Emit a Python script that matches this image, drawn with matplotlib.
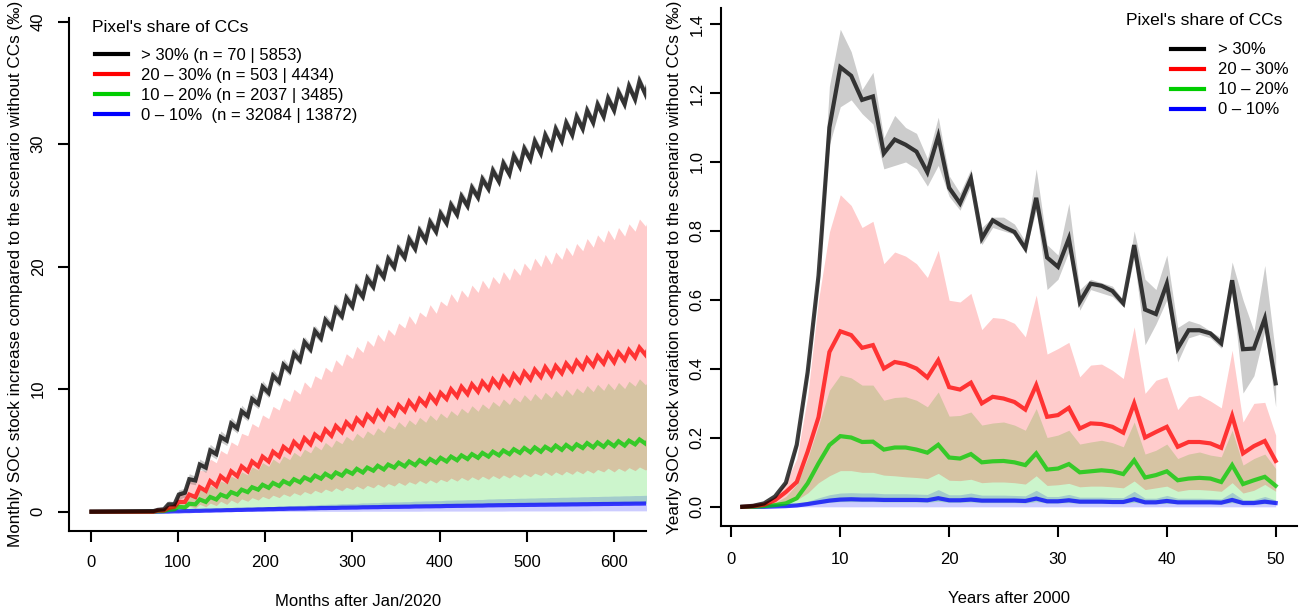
import numpy as np
import matplotlib
matplotlib.use("Agg")
import matplotlib.pyplot as plt
from matplotlib.lines import Line2D

plt.rcParams['font.family'] = ['Liberation Sans', 'DejaVu Sans']

# ---------------- data ----------------
# left panel: monthly series, one trough (month 12k) and one peak (month 12k+5) per year k
years_m = np.arange(6, 54)
start_value = 0.0   # all series are flat at zero before year 6

black_trough = [0.05, 0.2, 0.6, 1.55, 2.55, 3.6, 4.7, 5.8, 6.8, 7.8, 8.8, 9.7, 10.6, 11.5, 12.35, 13.25,
                14.15, 15.05, 15.95, 16.75, 17.55, 18.35, 19.15, 19.95, 20.75, 21.45, 22.15, 22.85, 23.55, 24.25,
                24.95, 25.65, 26.35, 26.95, 27.55, 28.15, 28.75, 29.25, 29.75, 30.25, 30.75, 31.25, 31.75, 32.25,
                32.75, 33.25, 33.65, 34.05]
black_peak = [0.15, 0.6, 1.4, 2.65, 3.85, 5.0, 6.1, 7.2, 8.2, 9.2, 10.2, 11.1, 12.0, 12.9, 13.85, 14.75,
              15.65, 16.55, 17.45, 18.25, 19.05, 19.85, 20.65, 21.45, 22.25, 22.95, 23.65, 24.35, 25.05, 25.75,
              26.45, 27.15, 27.85, 28.45, 29.05, 29.65, 30.25, 30.75, 31.25, 31.75, 32.25, 32.75, 33.25, 33.75,
              34.25, 34.75, 35.15, 35.55]
black_lo_trough = [0.0, 0.1, 0.4, 1.2, 2.2, 3.2, 4.3, 5.4, 6.4, 7.4, 8.4, 9.3, 10.2, 11.1, 12.0, 12.9, 13.8,
                   14.7, 15.6, 16.4, 17.2, 18.0, 18.8, 19.6, 20.4, 21.1, 21.8, 22.5, 23.2, 23.9, 24.6, 25.3,
                   26.0, 26.6, 27.2, 27.8, 28.4, 28.9, 29.4, 29.9, 30.4, 30.9, 31.4, 31.9, 32.4, 32.9, 33.3, 33.7]
black_lo_peak = [0.1, 0.3, 1.0, 2.3, 3.5, 4.6, 5.7, 6.8, 7.8, 8.8, 9.8, 10.7, 11.6, 12.5, 13.4, 14.3, 15.2,
                 16.1, 17.0, 17.8, 18.6, 19.4, 20.2, 21.0, 21.8, 22.5, 23.2, 23.9, 24.6, 25.3, 26.0, 26.7,
                 27.4, 28.0, 28.6, 29.2, 29.8, 30.3, 30.8, 31.3, 31.8, 32.3, 32.8, 33.3, 33.8, 34.3, 34.7, 35.1]
black_hi_trough = [0.1, 0.3, 0.8, 1.9, 2.9, 4.0, 5.1, 6.2, 7.2, 8.2, 9.2, 10.1, 11.0, 11.9, 12.8, 13.7, 14.6,
                   15.5, 16.4, 17.2, 18.0, 18.8, 19.6, 20.4, 21.2, 21.9, 22.6, 23.3, 24.0, 24.7, 25.4, 26.1,
                   26.8, 27.4, 28.0, 28.6, 29.2, 29.7, 30.2, 30.7, 31.2, 31.7, 32.2, 32.7, 33.2, 33.7, 34.1, 34.5]
black_hi_peak = [0.2, 0.9, 1.8, 3.1, 4.3, 5.5, 6.6, 7.7, 8.7, 9.7, 10.7, 11.6, 12.5, 13.4, 14.3, 15.2, 16.1,
                 17.0, 17.9, 18.7, 19.5, 20.3, 21.1, 21.9, 22.7, 23.4, 24.1, 24.8, 25.5, 26.2, 26.9, 27.6,
                 28.3, 28.9, 29.5, 30.1, 30.7, 31.2, 31.7, 32.2, 32.7, 33.2, 33.7, 34.2, 34.7, 35.2, 35.6, 36.0]

red_trough = [0.0, 0.1, 0.4, 0.8, 1.2, 1.7, 2.1, 2.5, 2.9, 3.3, 3.7, 4.1, 4.5, 4.9, 5.2, 5.5, 5.9, 6.2, 6.5,
              6.8, 7.1, 7.4, 7.6, 7.9, 8.2, 8.4, 8.7, 8.9, 9.2, 9.4, 9.6, 9.8, 10.0, 10.2, 10.4, 10.6, 10.8,
              11.0, 11.1, 11.3, 11.5, 11.7, 11.9, 12.1, 12.2, 12.4, 12.6, 12.8]
red_peak = [0.1, 0.3, 0.8, 1.4, 2.0, 2.5, 2.9, 3.3, 3.7, 4.1, 4.5, 4.9, 5.3, 5.7, 6.0, 6.3, 6.7, 7.0, 7.3,
            7.6, 7.9, 8.2, 8.4, 8.7, 9.0, 9.2, 9.5, 9.7, 10.0, 10.2, 10.4, 10.6, 10.8, 11.0, 11.2, 11.4, 11.6,
            11.8, 11.9, 12.1, 12.3, 12.5, 12.7, 12.9, 13.0, 13.2, 13.4, 13.6]
red_lo_trough = [0.0, 0.0, 0.05, 0.15, 0.3, 0.4, 0.5, 0.6, 0.7, 0.85, 0.95, 1.05, 1.15, 1.25, 1.35, 1.45,
                 1.55, 1.65, 1.7, 1.8, 1.85, 1.95, 2.0, 2.1, 2.15, 2.25, 2.3, 2.35, 2.45, 2.5, 2.55, 2.6,
                 2.65, 2.7, 2.75, 2.8, 2.85, 2.95, 2.95, 3.0, 3.05, 3.1, 3.15, 3.25, 3.25, 3.3, 3.35, 3.4]
red_lo_peak = [0.02, 0.1, 0.3, 0.45, 0.6, 0.7, 0.85, 0.95, 1.05, 1.15, 1.25, 1.35, 1.45, 1.55, 1.65, 1.75,
               1.85, 1.95, 2.0, 2.1, 2.15, 2.25, 2.3, 2.4, 2.45, 2.55, 2.6, 2.65, 2.75, 2.8, 2.85, 2.9,
               2.95, 3.0, 3.05, 3.1, 3.15, 3.25, 3.25, 3.3, 3.35, 3.4, 3.45, 3.55, 3.55, 3.6, 3.65, 3.7]
red_hi_trough = [0.05, 0.2, 0.7, 1.5, 2.4, 3.3, 4.0, 4.7, 5.4, 6.2, 6.9, 7.6, 8.3, 9.0, 9.6, 10.1, 10.8,
                 11.4, 11.9, 12.5, 13.0, 13.5, 13.9, 14.4, 15.0, 15.3, 15.9, 16.2, 16.8, 17.1, 17.5, 17.9,
                 18.2, 18.6, 18.9, 19.3, 19.7, 20.0, 20.2, 20.6, 20.9, 21.3, 21.6, 22.0, 22.2, 22.5, 22.9, 23.3]
red_hi_peak = [0.15, 0.5, 1.5, 2.5, 3.4, 4.3, 5.0, 5.7, 6.4, 7.2, 7.9, 8.6, 9.3, 10.0, 10.6, 11.1, 11.8,
               12.4, 12.9, 13.5, 14.0, 14.5, 14.9, 15.4, 16.0, 16.3, 16.9, 17.2, 17.8, 18.1, 18.5, 18.9,
               19.2, 19.6, 19.9, 20.3, 20.7, 21.0, 21.2, 21.6, 21.9, 22.3, 22.6, 23.0, 23.2, 23.5, 23.9, 24.3]

green_trough = [0.0, 0.05, 0.2, 0.35, 0.6, 0.8, 1.0, 1.2, 1.4, 1.6, 1.8, 1.95, 2.1, 2.25, 2.4, 2.55, 2.7,
                2.8, 2.95, 3.1, 3.2, 3.35, 3.45, 3.6, 3.7, 3.8, 3.9, 4.0, 4.1, 4.2, 4.3, 4.4, 4.5, 4.6, 4.7,
                4.8, 4.85, 4.9, 5.0, 5.05, 5.1, 5.2, 5.25, 5.3, 5.35, 5.4, 5.5, 5.55]
green_peak = [0.04, 0.15, 0.4, 0.65, 1.0, 1.2, 1.4, 1.6, 1.8, 2.0, 2.2, 2.35, 2.5, 2.65, 2.8, 2.95, 3.1,
              3.2, 3.35, 3.5, 3.6, 3.75, 3.85, 4.0, 4.1, 4.2, 4.3, 4.4, 4.5, 4.6, 4.7, 4.8, 4.9, 5.0, 5.1,
              5.2, 5.25, 5.3, 5.4, 5.45, 5.5, 5.6, 5.65, 5.7, 5.75, 5.8, 5.9, 5.95]
green_lo = [0.0, 0.01, 0.04, 0.06, 0.1, 0.12, 0.14, 0.17, 0.19, 0.22, 0.24, 0.26, 0.28, 0.29, 0.31, 0.33,
            0.35, 0.36, 0.38, 0.4, 0.41, 0.43, 0.44, 0.46, 0.47, 0.48, 0.49, 0.5, 0.52, 0.53, 0.54, 0.55,
            0.56, 0.58, 0.59, 0.6, 0.61, 0.61, 0.62, 0.63, 0.64, 0.65, 0.65, 0.66, 0.67, 0.67, 0.68, 0.69]
green_hi_trough = [0.02, 0.1, 0.35, 0.65, 1.2, 1.55, 1.9, 2.3, 2.65, 3.0, 3.4, 3.7, 3.95, 4.25, 4.5, 4.8,
                   5.05, 5.25, 5.55, 5.8, 6.0, 6.25, 6.45, 6.75, 6.9, 7.1, 7.3, 7.45, 7.65, 7.85, 8.05, 8.2,
                   8.4, 8.6, 8.75, 8.95, 9.05, 9.15, 9.3, 9.4, 9.5, 9.7, 9.8, 9.9, 9.95, 10.05, 10.25, 10.35]
green_hi_peak = [0.06, 0.3, 0.75, 1.2, 1.8, 2.15, 2.5, 2.9, 3.25, 3.65, 4.0, 4.3, 4.55, 4.85, 5.1, 5.4,
                 5.65, 5.85, 6.15, 6.4, 6.6, 6.85, 7.05, 7.35, 7.5, 7.7, 7.9, 8.05, 8.25, 8.45, 8.65, 8.8,
                 9.0, 9.2, 9.35, 9.55, 9.65, 9.75, 9.9, 10.0, 10.1, 10.3, 10.4, 10.5, 10.55, 10.65, 10.85, 10.95]

blue_mean = [0.0, 0.01, 0.03, 0.05, 0.07, 0.09, 0.11, 0.13, 0.15, 0.17, 0.19, 0.21, 0.23, 0.25, 0.26, 0.28,
             0.3, 0.31, 0.33, 0.34, 0.36, 0.37, 0.39, 0.4, 0.41, 0.43, 0.44, 0.45, 0.47, 0.48, 0.49, 0.5,
             0.52, 0.53, 0.54, 0.55, 0.56, 0.57, 0.58, 0.59, 0.6, 0.61, 0.62, 0.63, 0.64, 0.65, 0.66, 0.67]
blue_lo = [0.0, 0.0, 0.0, 0.01, 0.01, 0.01, 0.01, 0.01, 0.02, 0.02, 0.02, 0.02, 0.02, 0.03, 0.03, 0.03,
           0.03, 0.03, 0.03, 0.03, 0.04, 0.04, 0.04, 0.04, 0.04, 0.04, 0.05, 0.05, 0.05, 0.05, 0.05, 0.05,
           0.05, 0.05, 0.06, 0.06, 0.06, 0.06, 0.06, 0.06, 0.06, 0.06, 0.07, 0.07, 0.07, 0.07, 0.07, 0.07]
blue_hi = [0.0, 0.02, 0.06, 0.1, 0.14, 0.18, 0.22, 0.26, 0.3, 0.34, 0.38, 0.42, 0.46, 0.5, 0.52, 0.56,
           0.6, 0.62, 0.66, 0.68, 0.72, 0.74, 0.78, 0.8, 0.82, 0.86, 0.88, 0.9, 0.94, 0.96, 0.98, 1.0,
           1.04, 1.06, 1.08, 1.1, 1.12, 1.14, 1.16, 1.18, 1.2, 1.22, 1.24, 1.26, 1.28, 1.3, 1.32, 1.34]

# right panel: yearly variation, years 1..50
years_y = np.arange(1, 51)
black_yr = [0.0, 0.003, 0.01, 0.03, 0.07, 0.18, 0.39, 0.67, 1.10, 1.275,
            1.25, 1.18, 1.19, 1.025, 1.065, 1.05, 1.03, 0.97, 1.075, 0.925,
            0.88, 0.952, 0.778, 0.831, 0.812, 0.797, 0.749, 0.896, 0.723, 0.696,
            0.778, 0.594, 0.647, 0.641, 0.626, 0.59, 0.759, 0.572, 0.559, 0.647,
            0.459, 0.512, 0.512, 0.503, 0.474, 0.657, 0.457, 0.459, 0.546, 0.358]
black_yr_lo = [0.0, 0.002, 0.008, 0.027, 0.065, 0.17, 0.38, 0.65, 1.05, 1.16,
               1.18, 1.14, 1.11, 0.98, 0.99, 1.00, 0.98, 0.93, 0.99, 0.90,
               0.86, 0.93, 0.76, 0.81, 0.80, 0.79, 0.74, 0.86, 0.63, 0.66,
               0.74, 0.57, 0.63, 0.62, 0.61, 0.58, 0.72, 0.47, 0.53, 0.60,
               0.42, 0.49, 0.50, 0.49, 0.46, 0.63, 0.33, 0.38, 0.51, 0.29]
black_yr_hi = [0.0, 0.004, 0.012, 0.033, 0.075, 0.19, 0.42, 0.70, 1.22, 1.385,
               1.32, 1.21, 1.26, 1.07, 1.135, 1.10, 1.083, 1.01, 1.13, 0.96,
               0.91, 0.98, 0.81, 0.84, 0.84, 0.82, 0.77, 0.98, 0.76, 0.73,
               0.88, 0.63, 0.66, 0.65, 0.64, 0.60, 0.80, 0.66, 0.63, 0.73,
               0.52, 0.54, 0.53, 0.51, 0.49, 0.71, 0.60, 0.51, 0.70, 0.44]
red_yr = [0.0, 0.002, 0.006, 0.019, 0.043, 0.072, 0.16, 0.26, 0.449, 0.509,
          0.498, 0.461, 0.469, 0.401, 0.42, 0.414, 0.401, 0.375, 0.425, 0.347,
          0.34, 0.36, 0.30, 0.319, 0.314, 0.304, 0.282, 0.353, 0.261, 0.266,
          0.287, 0.227, 0.242, 0.240, 0.232, 0.215, 0.30, 0.201, 0.217, 0.232,
          0.174, 0.188, 0.188, 0.184, 0.171, 0.264, 0.155, 0.176, 0.191, 0.133]
red_yr_lo = [0.0, 0.0, 0.001, 0.004, 0.01, 0.02, 0.04, 0.07, 0.09, 0.105,
             0.105, 0.10, 0.10, 0.092, 0.09, 0.087, 0.085, 0.082, 0.097, 0.077,
             0.076, 0.08, 0.07, 0.072, 0.072, 0.07, 0.066, 0.09, 0.062, 0.064,
             0.068, 0.058, 0.06, 0.06, 0.058, 0.055, 0.075, 0.05, 0.055, 0.06,
             0.045, 0.05, 0.05, 0.048, 0.045, 0.07, 0.04, 0.048, 0.065, 0.045]
red_yr_hi = [0.0, 0.003, 0.01, 0.03, 0.07, 0.14, 0.32, 0.60, 0.797, 0.905,
             0.874, 0.81, 0.828, 0.705, 0.739, 0.727, 0.705, 0.665, 0.744, 0.599,
             0.594, 0.619, 0.514, 0.549, 0.546, 0.532, 0.493, 0.614, 0.443, 0.459,
             0.477, 0.377, 0.411, 0.414, 0.396, 0.372, 0.522, 0.329, 0.367, 0.377,
             0.282, 0.319, 0.324, 0.307, 0.287, 0.454, 0.246, 0.30, 0.303, 0.208]
green_yr = [0.0, 0.0, 0.002, 0.005, 0.01, 0.025, 0.068, 0.126, 0.179, 0.205,
            0.201, 0.188, 0.189, 0.166, 0.172, 0.172, 0.166, 0.157, 0.18, 0.143,
            0.14, 0.153, 0.129, 0.132, 0.133, 0.129, 0.121, 0.155, 0.108, 0.111,
            0.124, 0.10, 0.103, 0.106, 0.103, 0.095, 0.135, 0.085, 0.092, 0.103,
            0.077, 0.082, 0.084, 0.082, 0.072, 0.121, 0.066, 0.077, 0.087, 0.061]
green_yr_lo = [0.0, 0.0, 0.0, 0.001, 0.002, 0.004, 0.007, 0.01, 0.013, 0.015,
               0.015, 0.015, 0.015, 0.014, 0.014, 0.014, 0.014, 0.013, 0.016, 0.013,
               0.013, 0.014, 0.012, 0.012, 0.012, 0.012, 0.011, 0.015, 0.011, 0.011,
               0.012, 0.01, 0.01, 0.01, 0.01, 0.01, 0.013, 0.009, 0.009, 0.01,
               0.009, 0.009, 0.009, 0.009, 0.008, 0.012, 0.008, 0.008, 0.009, 0.008]
green_yr_hi = [0.0, 0.001, 0.004, 0.012, 0.03, 0.065, 0.14, 0.235, 0.338, 0.382,
               0.374, 0.353, 0.353, 0.309, 0.317, 0.319, 0.309, 0.29, 0.333, 0.263,
               0.265, 0.275, 0.237, 0.243, 0.246, 0.237, 0.222, 0.285, 0.201, 0.208,
               0.222, 0.182, 0.188, 0.193, 0.186, 0.174, 0.246, 0.153, 0.164, 0.182,
               0.14, 0.153, 0.159, 0.15, 0.145, 0.222, 0.121, 0.14, 0.153, 0.111]
blue_yr = [0.0, 0.0, 0.0, 0.001, 0.002, 0.004, 0.008, 0.013, 0.018, 0.021,
           0.022, 0.021, 0.021, 0.02, 0.02, 0.02, 0.02, 0.019, 0.025, 0.019,
           0.019, 0.021, 0.018, 0.018, 0.018, 0.018, 0.017, 0.024, 0.016, 0.016,
           0.019, 0.015, 0.015, 0.015, 0.014, 0.014, 0.022, 0.013, 0.013, 0.017,
           0.013, 0.013, 0.013, 0.013, 0.012, 0.02, 0.011, 0.011, 0.015, 0.011]
blue_yr_lo = [0.0] * 50
blue_yr_hi = [0.0, 0.0, 0.001, 0.002, 0.004, 0.008, 0.016, 0.026, 0.035, 0.04,
              0.041, 0.04, 0.04, 0.038, 0.038, 0.038, 0.037, 0.036, 0.05, 0.035,
              0.035, 0.04, 0.034, 0.034, 0.034, 0.033, 0.032, 0.048, 0.03, 0.03,
              0.036, 0.028, 0.028, 0.028, 0.027, 0.027, 0.045, 0.025, 0.025, 0.033,
              0.025, 0.025, 0.025, 0.024, 0.023, 0.042, 0.021, 0.021, 0.03, 0.02]

legend_title = "Pixel's share of CCs"
labels_left = ["> 30% (n = 70 | 5853)", "20 \u2013 30% (n = 503 | 4434)",
               "10 \u2013 20% (n = 2037 | 3485)", "0 \u2013 10%  (n = 32084 | 13872)"]
labels_right = ["> 30%", "20 \u2013 30%", "10 \u2013 20%", "0 \u2013 10%"]
colors = ["#000000", "#ff0000", "#00cd00", "#0000ff"]


def monthly(trough, peak):
    # join yearly troughs and peaks into one monthly polyline
    x = [1]
    y = [start_value]
    for k, lo, hi in zip(years_m, trough, peak):
        x += [12 * k, 12 * k + 5]
        y += [lo, hi]
    return np.array(x), np.array(y)


def style_axes(ax):
    for s in ["top", "right"]:
        ax.spines[s].set_visible(False)
    for s in ["left", "bottom"]:
        ax.spines[s].set_linewidth(1.5)
    ax.tick_params(length=8, width=1.5, labelsize=12, direction="out")


fig = plt.figure(figsize=(13.01, 6.09), dpi=100)
W, H = 1301.0, 609.0
axL = fig.add_axes([69.3 / W, (H - 530.7) / H, (646 - 69.3) / W, (530.7 - 18) / H])
axR = fig.add_axes([721 / W, (H - 526) / H, (1297 - 721) / W, (526 - 8.3) / H])

# left panel, drawn from the lowest class up
left_groups = [
    (blue_mean, blue_mean, blue_lo, blue_lo, blue_hi, blue_hi),
    (green_trough, green_peak, green_lo, green_lo, green_hi_trough, green_hi_peak),
    (red_trough, red_peak, red_lo_trough, red_lo_peak, red_hi_trough, red_hi_peak),
    (black_trough, black_peak, black_lo_trough, black_lo_peak, black_hi_trough, black_hi_peak),
]
for c, (mt, mp, lt, lp, ht, hp) in zip(colors[::-1], left_groups):
    x, lo = monthly(lt, lp)
    _, hi = monthly(ht, hp)
    _, mid = monthly(mt, mp)
    axL.fill_between(x, lo, hi, color=c, alpha=0.2, lw=0)
    axL.plot(x, mid, color=c, alpha=0.75, lw=3, solid_joinstyle="miter")

axL.set_xlim(-24.5, 636.5)
axL.set_ylim(-1.55, 40.3)
axL.set_xticks(np.arange(0, 601, 100))
axL.set_yticks(np.arange(0, 41, 10))
style_axes(axL)
axL.tick_params(axis="x", pad=9.5)
axL.tick_params(axis="y", pad=9)
for t in axL.get_yticklabels():
    t.set_rotation(90)
    t.set_va("center")
axL.set_xlabel("Months after Jan/2020", fontsize=12)
axL.xaxis.set_label_coords(0.5, -0.124)
axL.set_ylabel("Monthly SOC stock increase compared to the scenario without CCs (\u2030)", fontsize=12.3)
axL.yaxis.set_label_coords(-0.08, 0.5)

handles = [Line2D([], [], color=c, lw=3) for c in colors]
axL.text(0.039, 0.9824, legend_title, transform=axL.transAxes, fontsize=12.5, ha="left", va="center")
axL.legend(handles, labels_left, loc="upper left", bbox_to_anchor=(0.0446, 0.942), frameon=False,
           fontsize=12, handlelength=2.0, handletextpad=0.75, labelspacing=0.3, borderpad=0.0,
           borderaxespad=0.0)

# right panel
right_groups = [
    (blue_yr, blue_yr_lo, blue_yr_hi),
    (green_yr, green_yr_lo, green_yr_hi),
    (red_yr, red_yr_lo, red_yr_hi),
    (black_yr, black_yr_lo, black_yr_hi),
]
for c, (mid, lo, hi) in zip(colors[::-1], right_groups):
    axR.fill_between(years_y, lo, hi, color=c, alpha=0.2, lw=0)
    axR.plot(years_y, mid, color=c, alpha=0.75, lw=3, solid_joinstyle="miter")

axR.set_xlim(-0.96, 51.96)
axR.set_ylim(-0.0556, 1.4456)
axR.set_xticks(np.arange(0, 51, 10))
axR.set_yticks(np.arange(0, 1.41, 0.2))
axR.set_yticklabels(["%.1f" % v for v in np.arange(0, 1.41, 0.2)])
style_axes(axR)
axR.tick_params(axis="x", pad=11)
axR.tick_params(axis="y", pad=4)
for t in axR.get_yticklabels():
    t.set_rotation(90)
    t.set_va("center")
axR.set_xlabel("Years after 2000", fontsize=12)
axR.xaxis.set_label_coords(0.5, -0.126)
axR.set_ylabel("Yearly SOC stock variation compared to the scenario without CCs (\u2030)", fontsize=12.3)
axR.yaxis.set_label_coords(-0.068, 0.5)

axR.text(0.974, 0.977, legend_title, transform=axR.transAxes, fontsize=12.5, ha="right", va="center")
axR.legend(handles, labels_right, loc="upper right", bbox_to_anchor=(0.986, 0.934), frameon=False,
           fontsize=12, handlelength=2.0, handletextpad=0.84, labelspacing=0.3, borderpad=0.0,
           borderaxespad=0.0)

fig.savefig("out.png", dpi=100)
